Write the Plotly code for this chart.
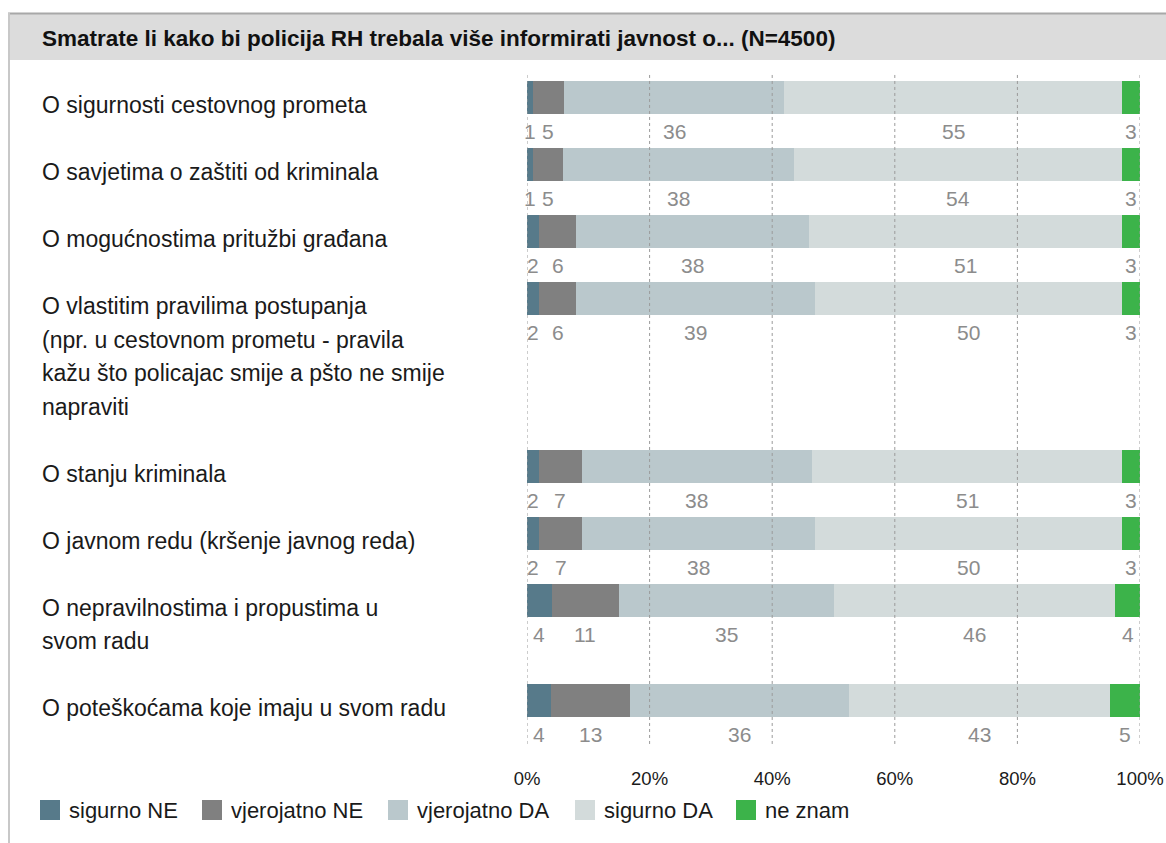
import plotly.graph_objects as go
import numpy as np

# ---------------- data ----------------
categories = [
    "O sigurnosti cestovnog prometa",
    "O savjetima o zaštiti od kriminala",
    "O mogućnostima pritužbi građana",
    "O vlastitim pravilima postupanja<br>(npr. u cestovnom prometu - pravila<br>kažu što policajac smije a pšto ne smije<br>napraviti",
    "O stanju kriminala",
    "O javnom redu (kršenje javnog reda)",
    "O nepravilnostima i propustima u<br>svom radu",
    "O poteškoćama koje imaju u svom radu",
]
series_names = ["sigurno NE", "vjerojatno NE", "vjerojatno DA", "sigurno DA", "ne znam"]
sigurno_ne = [1, 1, 2, 2, 2, 2, 4, 4]
vjerojatno_ne = [5, 5, 6, 6, 7, 7, 11, 13]
vjerojatno_da = [36, 38, 38, 39, 38, 38, 35, 36]
sigurno_da = [55, 54, 51, 50, 51, 50, 46, 43]
ne_znam = [3, 3, 3, 3, 3, 3, 4, 5]
tick_vals = [0, 20, 40, 60, 80, 100]
tick_text = ["0%", "20%", "40%", "60%", "80%", "100%"]
title_text = "Smatrate li kako bi policija RH trebala više informirati javnost o... (N=4500)"

colors = ["#577a8a", "#808080", "#bac8cc", "#d3dbdb", "#3cb34a"]

# ---------------- layout geometry ----------------
W, H = 1166, 843  # page is made margin-free below
PLOT_L, PLOT_R, PLOT_T, PLOT_B = 527, 1140, 60, 760  # screen px of plot area
ML, MR, MT, MB = PLOT_L, W - PLOT_R, PLOT_T, H - PLOT_B
PW, PH = W - ML - MR, H - MT - MB
LINE = 33.5  # px per line unit
TOP_PX = 81  # first bar top, screen px
y_top = -(TOP_PX - PLOT_T) / LINE
y_bot = y_top + PH / LINE


def px2x(px):  # screen px -> paper
    return (px - PLOT_L) / PW


def py2y(py):  # screen px -> paper
    return (PLOT_B - py) / PH


values = np.array([sigurno_ne, vjerojatno_ne, vjerojatno_da, sigurno_da, ne_znam], dtype=float)
shares = values / values.sum(axis=0) * 100
lefts = np.cumsum(shares, axis=0) - shares
centers_x = lefts + shares / 2

n_lines = [c.count("<br>") + 1 for c in categories]
row_h = [1 + n for n in n_lines]
row_top = np.concatenate([[0], np.cumsum(row_h)[:-1]])
bar_c = row_top + 0.5

fig = go.Figure()
for i, name in enumerate(series_names):
    fig.add_trace(go.Bar(
        x=shares[i], y=bar_c, base=lefts[i], orientation="h", name=name,
        marker=dict(color=colors[i], line=dict(width=0)), width=0.985,
        showlegend=False, hoverinfo="skip",
    ))

annotations = []
# value labels under bars
for i in range(len(series_names)):
    for j in range(len(categories)):
        annotations.append(dict(
            x=centers_x[i, j], y=row_top[j] + 1.52, xref="x", yref="y",
            text=str(int(values[i, j])), showarrow=False,
            font=dict(family="Liberation Sans", size=21, color="#8c8c8c"),
            xanchor="center", yanchor="middle",
        ))
# category labels
for j, cat in enumerate(categories):
    for k, line in enumerate(cat.split("<br>")):
        annotations.append(dict(
            x=px2x(40), y=row_top[j] + 0.72 + k, xref="paper", yref="y",
            text=line, showarrow=False,
            font=dict(family="Liberation Sans", size=23, color="#1a1a1a"),
            xanchor="left", yanchor="middle",
        ))
# title
annotations.append(dict(
    x=px2x(40), y=py2y(38), xref="paper", yref="paper", text="<b>" + title_text + "</b>",
    showarrow=False, font=dict(family="Liberation Sans", size=22.5, color="#111111"),
    xanchor="left", yanchor="middle",
))

shapes = []
# header band
shapes.append(dict(type="rect", xref="paper", yref="paper", x0=px2x(8), x1=px2x(W + 2),
                   y0=py2y(60), y1=py2y(13), fillcolor="#dcdcdc", line=dict(width=0), layer="below"))
shapes.append(dict(type="line", xref="paper", yref="paper", x0=px2x(8), x1=px2x(W + 2),
                   y0=py2y(13.5), y1=py2y(13.5), line=dict(color="#a8a8a8", width=2)))
shapes.append(dict(type="line", xref="paper", yref="paper", x0=px2x(9), x1=px2x(9),
                   y0=py2y(13), y1=py2y(H + 2), line=dict(color="#c8c8c8", width=2)))
# dotted gridlines above bars
for tv in tick_vals:
    shapes.append(dict(type="line", xref="x", yref="y", x0=tv, x1=tv,
                       y0=-0.18, y1=row_top[-1] + 1.85,
                       line=dict(color="#9a9a9a", width=1, dash="dot"), layer="above"))

# custom legend
leg_sq_px = [40, 202, 388, 575, 736]
for i, name in enumerate(series_names):
    x0 = leg_sq_px[i]
    shapes.append(dict(type="rect", xref="paper", yref="paper", x0=px2x(x0), x1=px2x(x0 + 20),
                       y0=py2y(820), y1=py2y(800), fillcolor=colors[i], line=dict(width=0)))
    annotations.append(dict(
        x=px2x(x0 + 27), y=py2y(810), xref="paper", yref="paper", text=name, showarrow=False,
        font=dict(family="Liberation Sans", size=22, color="#1a1a1a"), xanchor="left", yanchor="middle",
    ))

fig.update_layout(
    width=W, height=H, autosize=False,
    margin=dict(l=ML, r=MR, t=MT, b=MB, autoexpand=False),
    paper_bgcolor="white", plot_bgcolor="white",
    barmode="overlay", bargap=0,
    annotations=annotations, shapes=shapes,
    xaxis=dict(range=[0, 100], tickvals=tick_vals, ticktext=tick_text, showgrid=False,
               zeroline=False, showline=False, ticks="outside", ticklen=2,
               tickcolor="rgba(0,0,0,0)", automargin=False,
               tickfont=dict(family="Liberation Sans", size=18.5, color="#1a1a1a"), fixedrange=True),
    yaxis=dict(range=[y_bot, y_top], visible=False, fixedrange=True, automargin=False),
    showlegend=False,
)

fig.write_html(
    "out.html",
    config={"displayModeBar": False},
    post_script="document.body.style.margin='0';document.body.style.overflow='hidden';",
)
